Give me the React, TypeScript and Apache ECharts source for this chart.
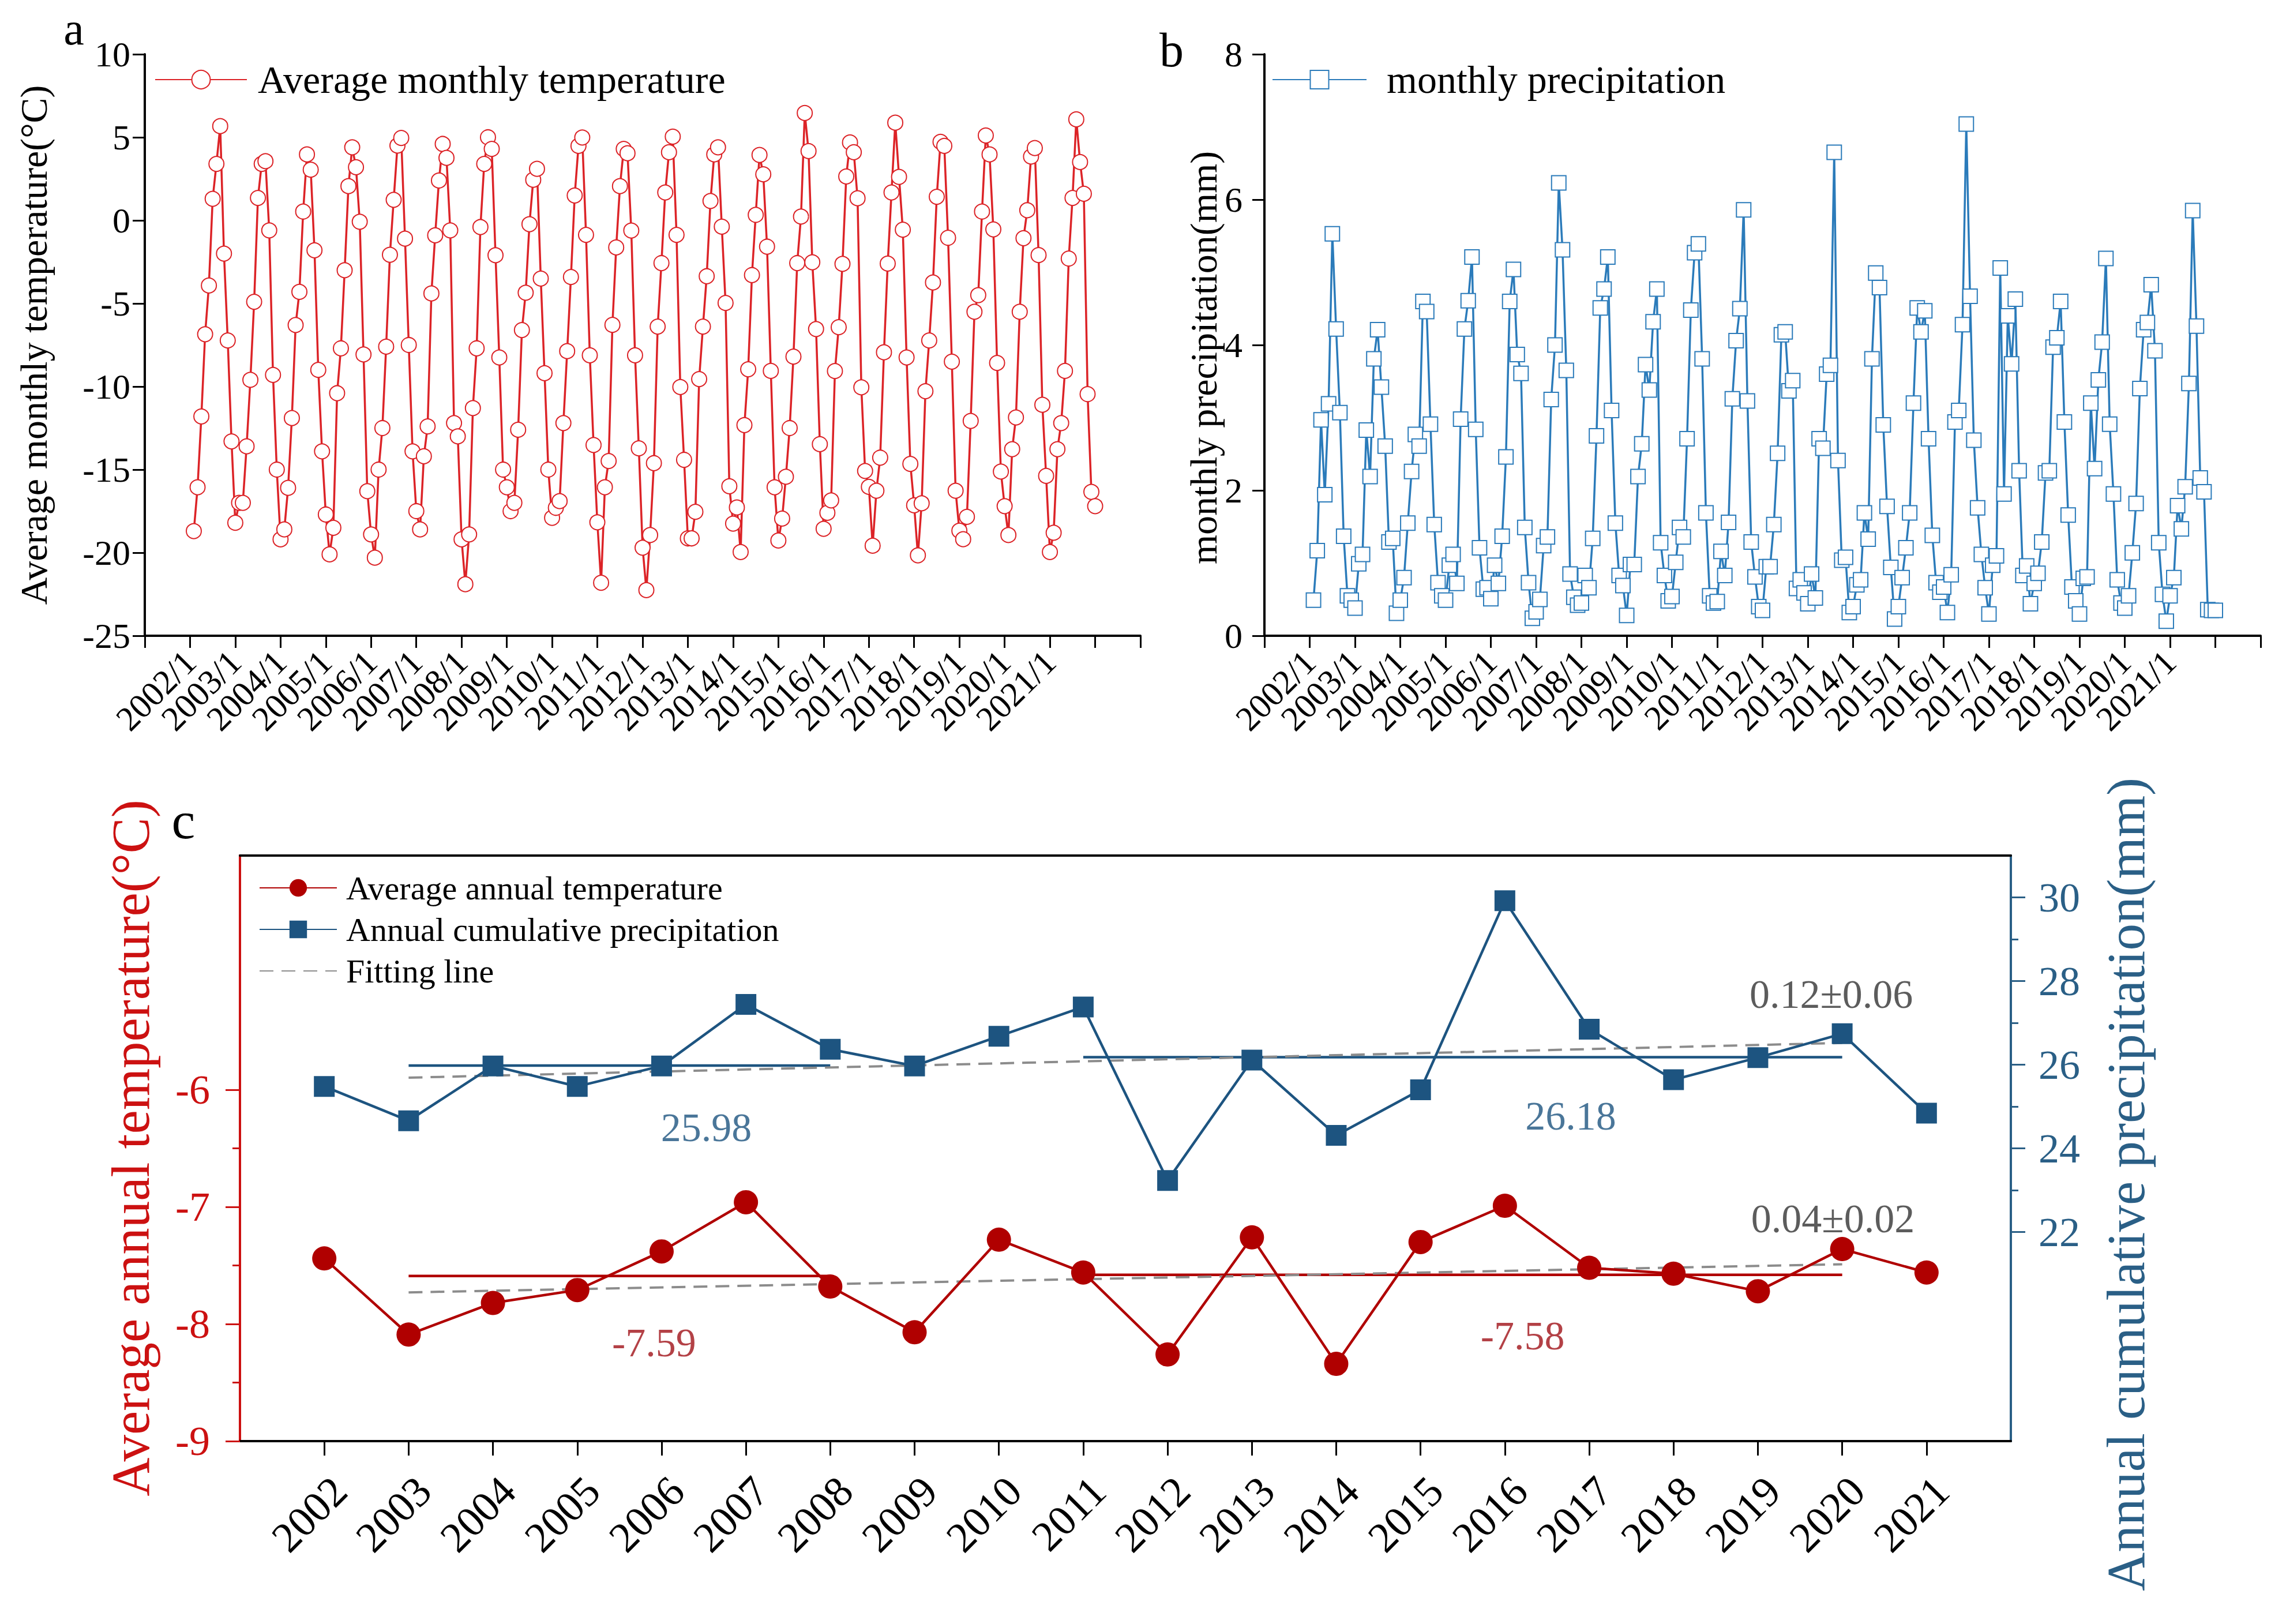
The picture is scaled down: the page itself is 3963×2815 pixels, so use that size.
import React, { useEffect, useRef } from "react";
import * as echarts from "echarts";

const FONT = '"Liberation Serif", "Times New Roman", serif';

// ---------- Panel a: average monthly temperature (one row per year, Jan..Dec) ----------
const monthYears = [2002, 2003, 2004, 2005, 2006, 2007, 2008, 2009, 2010, 2011, 2012, 2013, 2014, 2015, 2016, 2017, 2018, 2019, 2020, 2021];
const monthlyTemp = [
  [-18.7, -16.06, -11.8, -6.85, -3.92, 1.3, 3.4, 5.67, -2.0, -7.23, -13.3, -18.2],
  [-17.0, -17.0, -13.6, -9.6, -4.9, 1.35, 3.4, 3.56, -0.6, -9.3, -15.0, -19.2],
  [-18.6, -16.1, -11.9, -6.3, -4.3, 0.53, 3.97, 3.05, -1.8, -9.0, -13.9, -17.7],
  [-20.1, -18.5, -10.4, -7.7, -3.0, 2.06, 4.4, 3.2, -0.08, -8.07, -16.3, -18.9],
  [-20.3, -15.0, -12.5, -7.6, -2.07, 1.24, 4.5, 4.96, -1.1, -7.5, -13.9, -17.5],
  [-18.6, -14.2, -12.4, -4.4, -0.9, 2.4, 4.6, 3.76, -0.6, -12.2, -13.0, -19.2],
  [-21.9, -18.9, -11.3, -7.7, -0.4, 3.4, 5.0, 4.3, -2.1, -8.25, -15.0, -16.06],
  [-17.5, -17.0, -12.6, -6.6, -4.35, -0.23, 2.44, 3.1, -3.5, -9.2, -15.0, -17.9],
  [-17.3, -16.9, -12.2, -7.87, -3.41, 1.5, 4.48, 4.99, -0.87, -8.12, -13.52, -18.17],
  [-21.81, -16.06, -14.48, -6.29, -1.63, 2.06, 4.3, 4.04, -0.61, -8.12, -13.72, -19.7],
  [-22.25, -18.94, -14.61, -6.39, -2.57, 1.68, 4.1, 5.04, -0.87, -10.03, -14.41, -19.14],
  [-19.14, -17.54, -9.55, -6.39, -3.36, 1.17, 3.97, 4.4, -0.38, -4.97, -16.0, -18.25],
  [-17.28, -19.96, -12.32, -8.96, -3.29, 0.33, 3.94, 2.77, -1.58, -9.06, -16.06, -19.27],
  [-17.95, -15.43, -12.5, -8.2, -2.57, 0.23, 6.46, 4.17, -2.52, -6.54, -13.47, -18.56],
  [-17.6, -16.85, -9.07, -6.43, -2.62, 2.64, 4.69, 4.1, 1.33, -10.05, -15.08, -16.04],
  [-19.58, -16.27, -14.28, -7.94, -2.6, 1.68, 5.88, 2.62, -0.56, -8.25, -14.66, -17.15],
  [-20.16, -17.03, -10.28, -7.23, -3.74, 1.42, 4.73, 4.48, -1.05, -8.5, -16.27, -18.68],
  [-19.19, -17.84, -12.07, -5.5, -4.5, 0.53, 5.11, 3.97, -0.54, -8.58, -15.12, -17.2],
  [-18.94, -13.77, -11.86, -5.5, -1.07, 0.61, 3.84, 4.35, -2.09, -11.1, -15.38, -19.96],
  [-18.8, -13.77, -12.2, -9.06, -2.3, 1.35, 6.08, 3.51, 1.6, -10.46, -16.34, -17.2],
];

// ---------- Panel b: monthly precipitation (mm) ----------
const monthlyPrecip = [
  [0.49, 1.17, 2.97, 1.94, 3.19, 5.53, 4.22, 3.07, 1.37, 0.55, 0.49, 0.38],
  [0.99, 1.12, 2.83, 2.19, 3.81, 4.21, 3.42, 2.61, 1.29, 1.34, 0.31, 0.49],
  [0.8, 1.55, 2.26, 2.77, 2.61, 4.6, 4.46, 2.91, 1.53, 0.73, 0.55, 0.49],
  [0.97, 1.12, 0.72, 2.98, 4.22, 4.61, 5.21, 2.84, 1.21, 0.64, 0.66, 0.51],
  [0.97, 0.72, 1.37, 2.46, 4.6, 5.04, 3.87, 3.61, 1.49, 0.73, 0.24, 0.33],
  [0.5, 1.24, 1.36, 3.25, 4.0, 6.23, 5.31, 3.65, 0.85, 0.53, 0.42, 0.45],
  [0.83, 0.66, 1.34, 2.75, 4.51, 4.77, 5.21, 3.1, 1.55, 0.83, 0.69, 0.28],
  [0.98, 0.98, 2.19, 2.64, 3.73, 3.38, 4.32, 4.77, 1.28, 0.83, 0.48, 0.54],
  [1.01, 1.49, 1.36, 2.71, 4.48, 5.27, 5.39, 3.81, 1.69, 0.55, 0.45, 0.47],
  [1.16, 0.83, 1.56, 3.26, 4.06, 4.5, 5.86, 3.23, 1.29, 0.81, 0.4, 0.35],
  [0.95, 0.95, 1.53, 2.51, 4.14, 4.18, 3.37, 3.51, 0.65, 0.77, 0.59, 0.44],
  [0.85, 0.52, 2.71, 2.58, 3.6, 3.72, 6.65, 2.41, 1.04, 1.08, 0.32, 0.4],
  [0.7, 0.77, 1.69, 1.33, 3.81, 4.99, 4.79, 2.9, 1.78, 0.94, 0.23, 0.4],
  [0.8, 1.21, 1.69, 3.2, 4.51, 4.18, 4.47, 2.71, 1.38, 0.73, 0.6, 0.67],
  [0.32, 0.84, 2.94, 3.1, 4.28, 7.04, 4.67, 2.69, 1.76, 1.12, 0.66, 0.3],
  [0.97, 1.1, 5.06, 1.95, 4.4, 3.74, 4.63, 2.27, 0.83, 0.96, 0.44, 0.72],
  [0.86, 1.29, 2.24, 2.27, 3.97, 4.1, 4.6, 2.94, 1.66, 0.67, 0.48, 0.3],
  [0.79, 0.81, 3.2, 2.3, 3.52, 4.04, 5.19, 2.91, 1.95, 0.77, 0.45, 0.38],
  [0.55, 1.14, 1.82, 3.4, 4.21, 4.31, 4.83, 3.92, 1.28, 0.57, 0.2, 0.55],
  [0.8, 1.79, 1.47, 2.05, 3.47, 5.85, 4.26, 2.17, 1.98, 0.36, 0.35, 0.35],
];

// ---------- Panel c: annual values ----------
const years = [2002, 2003, 2004, 2005, 2006, 2007, 2008, 2009, 2010, 2011, 2012, 2013, 2014, 2015, 2016, 2017, 2018, 2019, 2020, 2021];
const annualTemp = [-7.44, -8.09, -7.82, -7.71, -7.38, -6.96, -7.68, -8.07, -7.28, -7.56, -8.26, -7.26, -8.34, -7.3, -6.99, -7.52, -7.57, -7.72, -7.36, -7.56];
const annualPrecip = [25.48, 24.66, 25.97, 25.48, 25.97, 27.44, 26.37, 25.97, 26.68, 27.38, 23.23, 26.11, 24.31, 25.4, 29.92, 26.85, 25.64, 26.17, 26.74, 24.84];

// period means [startYear, endYear, value]
const tempMeans = [[2003, 2008, -7.59], [2011, 2020, -7.58]];
const precipMeans = [[2003, 2008, 25.98], [2011, 2020, 26.18]];
// fitting lines [[x0, y0], [x1, y1]]
const tempFit = [[2003, -7.73], [2020, -7.49]];
const precipFit = [[2003, 25.69], [2020, 26.52]];

// text annotations [x, y, text]
const precipMeanNotes = [[2006.53, 24.49, "25.98"], [2016.78, 24.77, "26.18"]];
const tempMeanNotes = [[2005.91, -8.16, "-7.59"], [2016.21, -8.1, "-7.58"]];
const precipTrendNotes = [[2019.87, 27.68, "0.12±0.06"]];
const tempTrendNotes = [[2019.89, -7.1, "0.04±0.02"]];

const aYTicks = ["10", "5", "0", "-5", "-10", "-15", "-20", "-25"];

const RED_A = "#dc2327";
const BLUE_B = "#2b7bba";
const RED_C = "#b00000";
const RED_AX = "#cc1111";
const RED_NOTE = "#a01218";
const BLUE_C = "#1d5480";
const BLUE_AX = "#2a5f86";
const GRAY = "#8c8c8c";
const DARK = "#333333";

function monthlySeries(rows: number[][]) {
  const out: number[][] = [];
  rows.forEach((row, yi) => {
    row.forEach((v, mi) => {
      out.push([monthYears[yi] + (mi + 1) / 12, v]);
    });
  });
  return out;
}

function noteSeries(name: string, yAxisIndex: number, notes: any[], color: string) {
  return {
    name,
    type: "scatter",
    xAxisIndex: 2,
    yAxisIndex,
    symbolSize: 0,
    silent: true,
    data: notes.map((n) => ({ value: [n[0], n[1]], name: n[2] })),
    label: {
      show: true,
      position: "inside",
      formatter: "{b}",
      fontSize: 70,
      fontFamily: FONT,
      color,
    },
  };
}

export default function App() {
  const ref = useRef<HTMLDivElement>(null);

  useEffect(() => {
    if (!ref.current) return;
    const chart = echarts.init(ref.current, undefined, { renderer: "svg" });

    const yearFmt = (v: number) => {
      const r = Math.round(v);
      return r >= 2002 && r <= 2021 ? `${r}/1` : "";
    };

    const baseX = (gridIndex: number) => ({
      type: "value",
      gridIndex,
      min: 2001,
      max: 2023,
      interval: 1,
      axisLine: { show: true, onZero: false, lineStyle: { color: "#000", width: 4 } },
      axisTick: { show: true, inside: false, length: 21, lineStyle: { color: "#000", width: 3 } },
      splitLine: { show: false },
      axisLabel: {
        formatter: yearFmt,
        rotate: 45,
        margin: 36,
        fontSize: 60,
        fontFamily: FONT,
        color: "#000",
      },
    });

    const option: any = {
      animation: false,
      backgroundColor: "#fff",
      textStyle: { fontFamily: FONT },
      grid: [
        { left: 251, top: 94, width: 1726, height: 1008, outerBoundsMode: "none" },
        { left: 2192, top: 94, width: 1727, height: 1008, outerBoundsMode: "none" },
        { left: 416, top: 1483, width: 3070, height: 1015, outerBoundsMode: "none" },
      ],
      legend: [
        {
          data: ["Average monthly temperature"],
          left: 268,
          top: 104,
          padding: 0,
          itemWidth: 159,
          itemHeight: 40,
          textStyle: { fontSize: 68, fontFamily: FONT, color: "#000", padding: [0, 0, 0, 14] },
        },
        {
          data: ["monthly precipitation"],
          left: 2205,
          top: 104,
          padding: 0,
          itemWidth: 163,
          itemHeight: 40,
          textStyle: { fontSize: 68, fontFamily: FONT, color: "#000", padding: [0, 0, 0, 30] },
        },
        {
          data: [
            "Average annual temperature",
            "Annual cumulative precipitation",
            { name: "Fitting line", itemStyle: { opacity: 0 } },
          ],
          orient: "vertical",
          left: 449,
          top: 1509,
          padding: 0,
          itemWidth: 134,
          itemHeight: 38,
          itemGap: 12,
          textStyle: { fontSize: 58, lineHeight: 60, fontFamily: FONT, color: "#000", padding: [0, 0, 0, 11] },
        },
      ],
      xAxis: [
        baseX(0),
        baseX(1),
        {
          type: "value",
          gridIndex: 2,
          min: 2001,
          max: 2022,
          interval: 1,
          axisLine: { show: true, onZero: false, lineStyle: { color: "#000", width: 4 } },
          axisTick: { show: true, length: 25, customValues: years, lineStyle: { color: "#000", width: 3 } },
          splitLine: { show: false },
          axisLabel: {
            customValues: years,
            formatter: (v: number) => String(Math.round(v)),
            rotate: 45,
            verticalAlign: "top",
            margin: 48,
            fontSize: 74,
            fontFamily: FONT,
            color: "#000",
          },
        },
        {
          type: "value",
          gridIndex: 2,
          position: "top",
          min: 2001,
          max: 2022,
          axisLine: { show: true, onZero: false, lineStyle: { color: "#000", width: 4 } },
          axisTick: { show: false },
          axisLabel: { show: false },
          splitLine: { show: false },
        },
      ],
      yAxis: [
        {
          type: "value",
          gridIndex: 0,
          min: -25,
          max: 10,
          interval: 5,
          axisLine: { show: true, onZero: false, lineStyle: { color: "#000", width: 4 } },
          axisTick: { show: true, length: 21, lineStyle: { color: "#000", width: 3 } },
          splitLine: { show: false },
          axisLabel: {
            formatter: (v: number) => aYTicks[Math.round((10 - v) / 5)] ?? String(v),
            margin: 25,
            fontSize: 62,
            fontFamily: FONT,
            color: "#000",
          },
        },
        {
          type: "value",
          gridIndex: 1,
          min: 0,
          max: 8,
          interval: 2,
          axisLine: { show: true, onZero: false, lineStyle: { color: "#000", width: 4 } },
          axisTick: { show: true, length: 21, lineStyle: { color: "#000", width: 3 } },
          splitLine: { show: false },
          axisLabel: { margin: 38, fontSize: 62, fontFamily: FONT, color: "#000" },
        },
        {
          type: "value",
          gridIndex: 2,
          position: "left",
          min: -9,
          max: -4,
          interval: 1,
          axisLine: { show: true, onZero: false, lineStyle: { color: RED_AX, width: 4 } },
          axisTick: { show: true, length: 25, customValues: [-9, -8, -7, -6], lineStyle: { color: RED_AX, width: 3 } },
          splitLine: { show: false },
          axisLabel: {
            customValues: [-9, -8, -7, -6],
            margin: 52,
            fontSize: 72,
            fontFamily: FONT,
            color: RED_AX,
          },
        },
        {
          type: "value",
          gridIndex: 2,
          position: "left",
          min: -9,
          max: -4,
          interval: 1,
          axisLine: { show: true, onZero: false, lineStyle: { color: RED_AX, width: 4 } },
          axisTick: { show: true, length: 13, customValues: [-8.5, -7.5, -6.5], lineStyle: { color: RED_AX, width: 3 } },
          splitLine: { show: false },
          axisLabel: { show: false },
        },
        {
          type: "value",
          gridIndex: 2,
          position: "right",
          min: 17,
          max: 31,
          interval: 1,
          axisLine: { show: true, onZero: false, lineStyle: { color: BLUE_AX, width: 4 } },
          axisTick: { show: true, length: 25, customValues: [22, 24, 26, 28, 30], lineStyle: { color: BLUE_AX, width: 3 } },
          splitLine: { show: false },
          axisLabel: {
            customValues: [22, 24, 26, 28, 30],
            margin: 48,
            fontSize: 72,
            fontFamily: FONT,
            color: BLUE_AX,
          },
        },
        {
          type: "value",
          gridIndex: 2,
          position: "right",
          min: 17,
          max: 31,
          interval: 1,
          axisLine: { show: true, onZero: false, lineStyle: { color: BLUE_AX, width: 4 } },
          axisTick: { show: true, length: 13, customValues: [23, 25, 27, 29], lineStyle: { color: BLUE_AX, width: 3 } },
          splitLine: { show: false },
          axisLabel: { show: false },
        },
      ],
      series: [
        {
          name: "Average monthly temperature",
          type: "line",
          xAxisIndex: 0,
          yAxisIndex: 0,
          data: monthlySeries(monthlyTemp),
          symbol: "emptyCircle",
          symbolSize: 26,
          color: RED_A,
          lineStyle: { color: RED_A, width: 3.5 },
          itemStyle: { color: RED_A, borderColor: RED_A, borderWidth: 4 },
        },
        {
          name: "monthly precipitation",
          type: "line",
          xAxisIndex: 1,
          yAxisIndex: 1,
          data: monthlySeries(monthlyPrecip),
          symbol: "emptyRect",
          symbolSize: 25,
          color: BLUE_B,
          lineStyle: { color: BLUE_B, width: 3.5 },
          itemStyle: { color: BLUE_B, borderColor: BLUE_B, borderWidth: 4 },
        },
        ...precipMeans.map((m) => ({
          name: "precip-mean",
          type: "line",
          xAxisIndex: 2,
          yAxisIndex: 4,
          data: [[m[0], m[2]], [m[1], m[2]]],
          symbol: "none",
          lineStyle: { color: BLUE_C, width: 4.5 },
          silent: true,
        })),
        ...tempMeans.map((m) => ({
          name: "temp-mean",
          type: "line",
          xAxisIndex: 2,
          yAxisIndex: 2,
          data: [[m[0], m[2]], [m[1], m[2]]],
          symbol: "none",
          lineStyle: { color: RED_C, width: 4.5 },
          silent: true,
        })),
        {
          name: "Fitting line",
          type: "line",
          xAxisIndex: 2,
          yAxisIndex: 4,
          data: precipFit,
          symbol: "none",
          color: GRAY,
          lineStyle: { color: GRAY, width: 4, type: [24, 14] },
        },
        {
          name: "Fitting line",
          type: "line",
          xAxisIndex: 2,
          yAxisIndex: 2,
          data: tempFit,
          symbol: "none",
          color: GRAY,
          lineStyle: { color: GRAY, width: 4, type: [24, 14] },
        },
        {
          name: "Annual cumulative precipitation",
          type: "line",
          xAxisIndex: 2,
          yAxisIndex: 4,
          data: years.map((y, i) => [y, annualPrecip[i]]),
          symbol: "rect",
          symbolSize: 36,
          color: BLUE_C,
          lineStyle: { color: BLUE_C, width: 4.5 },
          itemStyle: { color: BLUE_C },
        },
        {
          name: "Average annual temperature",
          type: "line",
          xAxisIndex: 2,
          yAxisIndex: 2,
          data: years.map((y, i) => [y, annualTemp[i]]),
          symbol: "circle",
          symbolSize: 42,
          color: RED_C,
          lineStyle: { color: RED_C, width: 4.5 },
          itemStyle: { color: RED_C },
        },
        noteSeries("precip-mean-notes", 4, precipMeanNotes, BLUE_C),
        noteSeries("temp-mean-notes", 2, tempMeanNotes, RED_NOTE),
        noteSeries("precip-trend-notes", 4, precipTrendNotes, DARK),
        noteSeries("temp-trend-notes", 2, tempTrendNotes, DARK),
      ],
      graphic: [
        { type: "text", x: 128, y: 50, style: { text: "a", fontSize: 80, fontFamily: FONT, fill: "#000", align: "center", verticalAlign: "middle" } },
        { type: "text", x: 2031, y: 86, style: { text: "b", fontSize: 84, fontFamily: FONT, fill: "#000", align: "center", verticalAlign: "middle" } },
        { type: "text", x: 318, y: 1422, style: { text: "c", fontSize: 92, fontFamily: FONT, fill: "#000", align: "center", verticalAlign: "middle" } },
        { type: "text", x: 58, y: 598, rotation: Math.PI / 2, style: { text: "Average monthly temperature(°C)", fontSize: 66, fontFamily: FONT, fill: "#000", align: "center", verticalAlign: "middle" } },
        { type: "text", x: 2086, y: 620, rotation: Math.PI / 2, style: { text: "monthly precipitation(mm)", fontSize: 66, fontFamily: FONT, fill: "#000", align: "center", verticalAlign: "middle" } },
        { type: "text", x: 226, y: 1990, rotation: Math.PI / 2, style: { text: "Average annual temperature(°C)", fontSize: 93, fontFamily: FONT, fill: RED_AX, align: "center", verticalAlign: "middle" } },
        { type: "text", x: 3685, y: 2053, rotation: Math.PI / 2, style: { text: "Annual cumulative precipitation(mm)", fontSize: 93, fontFamily: FONT, fill: BLUE_AX, align: "center", verticalAlign: "middle" } },
      ],
    };

    chart.setOption(option);
    return () => chart.dispose();
  }, []);

  return (
    <div
      ref={ref}
      style={{ position: "absolute", left: 0, top: 0, width: 3963, height: 2815, background: "#fff" }}
    />
  );
}
